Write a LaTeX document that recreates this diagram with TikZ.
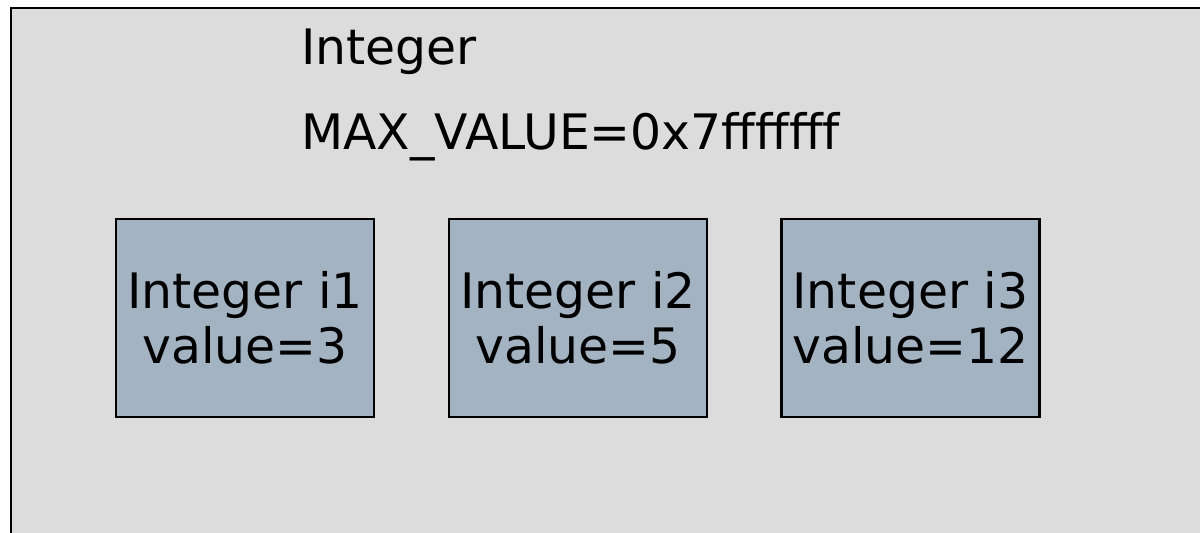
\documentclass[tikz,border=0pt]{standalone}
\usepackage{fontspec}
\setmainfont{DejaVu Sans}
\definecolor{panelgray}{HTML}{DCDCDC}
\definecolor{objfill}{HTML}{A3B3C2}
\begin{document}
\begin{tikzpicture}[x=0.02cm,y=-0.02cm,
  bigtext/.style={font=\fontsize{27.8}{31.2}\selectfont, inner sep=0pt},
  objbox/.style={draw=black, line width=1.2pt, fill=objfill,
    minimum width=258*0.02cm, minimum height=198*0.02cm,
    inner sep=0pt, align=center, bigtext}]
  % page extent
  \useasboundingbox (0,0) rectangle (1200,533);
  \fill[white] (0,0) rectangle (1200,533);
  % class panel, running off the right and bottom edges
  \draw[fill=panelgray, line width=1.6pt] (11,8) rectangle (1215,545);
  % class name and static field
  \node[bigtext, anchor=base west] (cls) at (301,65) {Integer};
  \node[bigtext, anchor=base west] (maxv) at (301,150) {MAX\_VALUE=0x7fffffff};
  % instances
  \node[objbox] (i1) at (245,318) {Integer i1\\value=3};
  \node[objbox] (i2) at (578,318) {Integer i2\\value=5};
  \node[objbox] (i3) at (910.5,318) {Integer i3\\value=12};
\end{tikzpicture}
\end{document}
